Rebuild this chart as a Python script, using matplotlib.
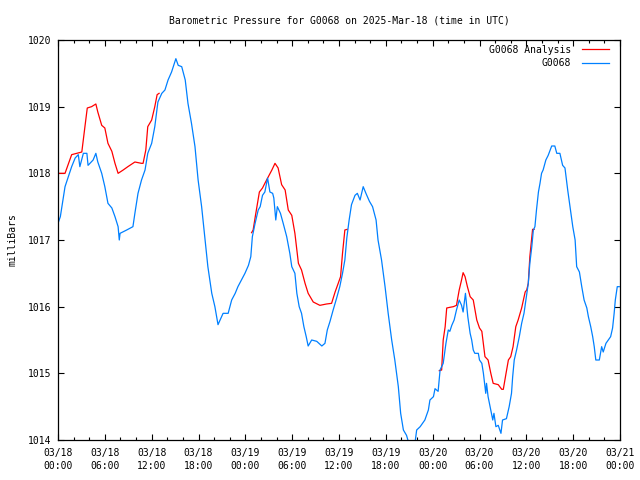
import numpy as np
import matplotlib
matplotlib.use('Agg')
import matplotlib.pyplot as plt
from matplotlib.ticker import MultipleLocator

# hours since 2025-03-18 00:00 UTC
obs_hours = [0.0, 0.3, 0.9, 1.75, 2.2, 2.6, 2.8, 3.25, 3.7, 3.85, 4.5, 4.85, 5.1, 5.6,
             6.0, 6.4, 6.9, 7.3, 7.7, 7.85, 7.95, 8.8, 9.6, 9.85, 10.25, 10.7, 11.15,
             11.5, 12.0, 12.4, 12.8, 13.3, 13.7, 14.1, 14.55, 15.1, 15.4, 15.85, 16.3,
             16.65, 17.1, 17.55, 17.95, 18.4, 18.85, 19.2, 19.7, 20.1, 20.5, 21.15,
             21.8, 22.25, 22.7, 23.05, 23.5, 23.95, 24.4, 24.7, 24.9, 25.25, 25.65,
             25.9, 26.2, 26.5, 26.85, 27.15, 27.5, 27.65, 27.9, 28.1, 28.5, 28.85,
             29.3, 29.7, 29.95, 30.35, 30.6, 30.9, 31.2, 31.5, 31.8, 32.05, 32.5,
             33.15, 33.8, 34.2, 34.5, 34.85, 35.25, 35.7, 36.1, 36.45, 36.75, 37.0,
             37.3, 37.6, 38.05, 38.35, 38.7, 39.1, 39.45, 39.9, 40.3, 40.75, 41.0,
             41.45, 41.9, 42.3, 42.75, 43.15, 43.6, 43.9, 44.25, 44.65, 44.95, 45.35,
             45.75, 45.95, 46.4, 47.0, 47.45, 47.65, 48.1, 48.3, 48.7, 48.95, 49.35,
             49.7, 50.0, 50.2, 50.45, 50.75, 51.05, 51.4, 51.7, 51.9, 52.2, 52.5,
             52.8, 53.0, 53.2, 53.4, 53.85, 54.0, 54.3, 54.5, 54.8, 54.9, 55.1, 55.45,
             55.7, 55.85, 56.1, 56.4, 56.75, 56.95, 57.45, 57.8, 58.1, 58.25, 58.45,
             58.75, 59.1, 59.4, 59.7, 59.95, 60.25, 60.45, 60.7, 60.9, 61.1, 61.3,
             61.55, 61.75, 61.95, 62.15, 62.5, 62.8, 63.25, 63.65, 63.9, 64.3, 64.65,
             64.95, 65.3, 65.6, 65.95, 66.25, 66.45, 66.8, 67.1, 67.4, 67.75, 67.95,
             68.25, 68.5, 68.7, 68.9, 69.35, 69.65, 69.85, 70.2, 70.5, 70.8, 71.05,
             71.25, 71.4, 71.65, 71.9]
obs_mbar = [1017.25, 1017.35, 1017.8, 1018.1, 1018.23, 1018.28, 1018.1, 1018.3, 1018.3,
            1018.12, 1018.2, 1018.3, 1018.17, 1018.0, 1017.8, 1017.55, 1017.48,
            1017.35, 1017.2, 1017.0, 1017.1, 1017.15, 1017.2, 1017.4, 1017.7, 1017.9,
            1018.05, 1018.3, 1018.45, 1018.7, 1019.07, 1019.2, 1019.25, 1019.4,
            1019.52, 1019.72, 1019.62, 1019.6, 1019.4, 1019.05, 1018.75, 1018.4,
            1017.9, 1017.5, 1017.0, 1016.6, 1016.2, 1016.0, 1015.73, 1015.9, 1015.9,
            1016.1, 1016.2, 1016.3, 1016.4, 1016.5, 1016.62, 1016.75, 1017.05,
            1017.25, 1017.45, 1017.5, 1017.67, 1017.72, 1017.93, 1017.72, 1017.7,
            1017.63, 1017.3, 1017.5, 1017.4, 1017.25, 1017.05, 1016.8, 1016.6, 1016.5,
            1016.2, 1016.0, 1015.9, 1015.7, 1015.55, 1015.41, 1015.5, 1015.48,
            1015.41, 1015.45, 1015.65, 1015.78, 1015.95, 1016.13, 1016.3, 1016.5,
            1016.7, 1017.03, 1017.3, 1017.53, 1017.67, 1017.7, 1017.6, 1017.8, 1017.7,
            1017.58, 1017.5, 1017.3, 1017.0, 1016.7, 1016.3, 1015.9, 1015.5, 1015.2,
            1014.8, 1014.4, 1014.15, 1014.07, 1013.95, 1013.9, 1013.97, 1014.15,
            1014.2, 1014.3, 1014.45, 1014.6, 1014.65, 1014.77, 1014.73, 1015.05,
            1015.15, 1015.45, 1015.65, 1015.63, 1015.72, 1015.8, 1015.95, 1016.1,
            1016.02, 1015.92, 1016.2, 1015.85, 1015.6, 1015.5, 1015.35, 1015.3,
            1015.3, 1015.2, 1015.15, 1015.0, 1014.7, 1014.85, 1014.65, 1014.45,
            1014.3, 1014.4, 1014.2, 1014.22, 1014.1, 1014.3, 1014.32, 1014.5, 1014.7,
            1014.95, 1015.2, 1015.35, 1015.55, 1015.75, 1015.9, 1016.1, 1016.35,
            1016.65, 1016.9, 1017.15, 1017.2, 1017.45, 1017.72, 1017.85, 1018.0,
            1018.05, 1018.2, 1018.27, 1018.41, 1018.41, 1018.3, 1018.3, 1018.12,
            1018.08, 1017.75, 1017.5, 1017.2, 1017.0, 1016.6, 1016.52, 1016.3, 1016.1,
            1015.98, 1015.85, 1015.7, 1015.55, 1015.4, 1015.2, 1015.2, 1015.4,
            1015.32, 1015.45, 1015.5, 1015.55, 1015.68, 1015.9, 1016.1, 1016.3, 1016.3]

# analysis series, NaN where it is hidden under the observations
ana_hours = [0.0, 0.9, 1.75, 2.4, 3.05, 3.45, 3.75, 4.3, 4.85, 5.1, 5.6, 6.0, 6.4, 6.9,
             7.3, 7.7, 8.35, 8.95, 9.85, 10.7, 10.9, 11.25, 11.5, 12.0, 12.4, 12.7,
             12.95, 18.0,
             24.8, 25.0, 25.3, 25.8, 26.2, 26.5, 26.95, 27.4, 27.8, 28.2, 28.65, 29.1,
             29.5, 29.95, 30.35, 30.8, 31.2, 31.65, 32.05, 32.7, 33.55, 34.4, 35.05,
             35.5, 35.9, 36.2, 36.45, 36.75, 37.05, 42.0,
             48.85, 49.15, 49.35, 49.6, 49.8, 50.2, 50.65, 51.05, 51.4, 51.7, 51.9,
             52.15, 52.45, 52.8, 53.2, 53.65, 54.0, 54.3, 54.7, 55.1, 55.45, 55.75,
             56.4, 56.85, 57.05, 57.4, 57.7, 58.0, 58.3, 58.65, 58.95, 59.4, 59.85,
             60.05, 60.25, 60.45, 60.8, 61.0]
ana_mbar = [1018.0, 1018.0, 1018.28, 1018.3, 1018.32, 1018.7, 1018.98, 1019.0, 1019.04,
            1018.92, 1018.72, 1018.68, 1018.45, 1018.33, 1018.15, 1018.0, 1018.05,
            1018.1, 1018.17, 1018.15, 1018.15, 1018.35, 1018.7, 1018.8, 1019.0,
            1019.18, 1019.2, np.nan,
            1017.11, 1017.15, 1017.37, 1017.72, 1017.78, 1017.85, 1017.95, 1018.05,
            1018.15, 1018.08, 1017.83, 1017.75, 1017.45, 1017.37, 1017.1, 1016.65,
            1016.55, 1016.35, 1016.2, 1016.07, 1016.02, 1016.04, 1016.05, 1016.22,
            1016.35, 1016.45, 1016.8, 1017.15, 1017.16, np.nan,
            1015.04, 1015.05, 1015.5, 1015.7, 1015.98, 1015.99, 1016.0, 1016.02,
            1016.25, 1016.4, 1016.51, 1016.45, 1016.3, 1016.15, 1016.1, 1015.8,
            1015.68, 1015.63, 1015.25, 1015.2, 1015.0, 1014.85, 1014.83, 1014.76,
            1014.76, 1015.0, 1015.2, 1015.25, 1015.4, 1015.7, 1015.8, 1015.98,
            1016.22, 1016.25, 1016.35, 1016.75, 1017.16, 1017.16]

tick_hours = [0, 6, 12, 18, 24, 30, 36, 42, 48, 54, 60, 66, 72]
tick_labels = ['03/18\n00:00', '03/18\n06:00', '03/18\n12:00', '03/18\n18:00',
               '03/19\n00:00', '03/19\n06:00', '03/19\n12:00', '03/19\n18:00',
               '03/20\n00:00', '03/20\n06:00', '03/20\n12:00', '03/20\n18:00',
               '03/21\n00:00']

plt.rcParams['font.family'] = ['DejaVu Sans Mono']
plt.rcParams['font.size'] = 7.0

fig = plt.figure(figsize=(6.4, 4.8), dpi=100)
ax = fig.add_axes([58 / 640, 40 / 480, 562 / 640, 400 / 480])

ax.plot(ana_hours, ana_mbar, color='#ff0000', lw=0.9, label='G0068 Analysis')
ax.plot(obs_hours, obs_mbar, color='#0080ff', lw=0.9, label='G0068')

ax.set_xlim(0, 72)
ax.set_ylim(1014, 1020)
ax.set_xticks(tick_hours)
ax.set_xticklabels(tick_labels, linespacing=1.3)
ax.xaxis.set_minor_locator(MultipleLocator(2))
ax.yaxis.set_major_locator(MultipleLocator(1))
ax.yaxis.set_major_formatter(matplotlib.ticker.FormatStrFormatter('%d'))
ax.tick_params(which='both', direction='in', top=True, right=True, width=0.8)
ax.tick_params(which='major', length=4.5)
ax.tick_params(axis='x', which='major', pad=6)
ax.tick_params(axis='y', which='major', pad=5)
ax.tick_params(which='minor', length=2.5)
for s in ax.spines.values():
    s.set_linewidth(0.9)

ax.set_ylabel('milliBars', labelpad=7)
ax.set_title('Barometric Pressure for G0068 on 2025-Mar-18 (time in UTC)',
             fontsize=7.0, pad=12)
ax.legend(loc='upper right', bbox_to_anchor=(0.989, 1.0), frameon=False,
          markerfirst=False, handlelength=2.8, handletextpad=1.1,
          borderaxespad=0.15, borderpad=0.35, labelspacing=0.35)

fig.savefig('out.png', dpi=100)
